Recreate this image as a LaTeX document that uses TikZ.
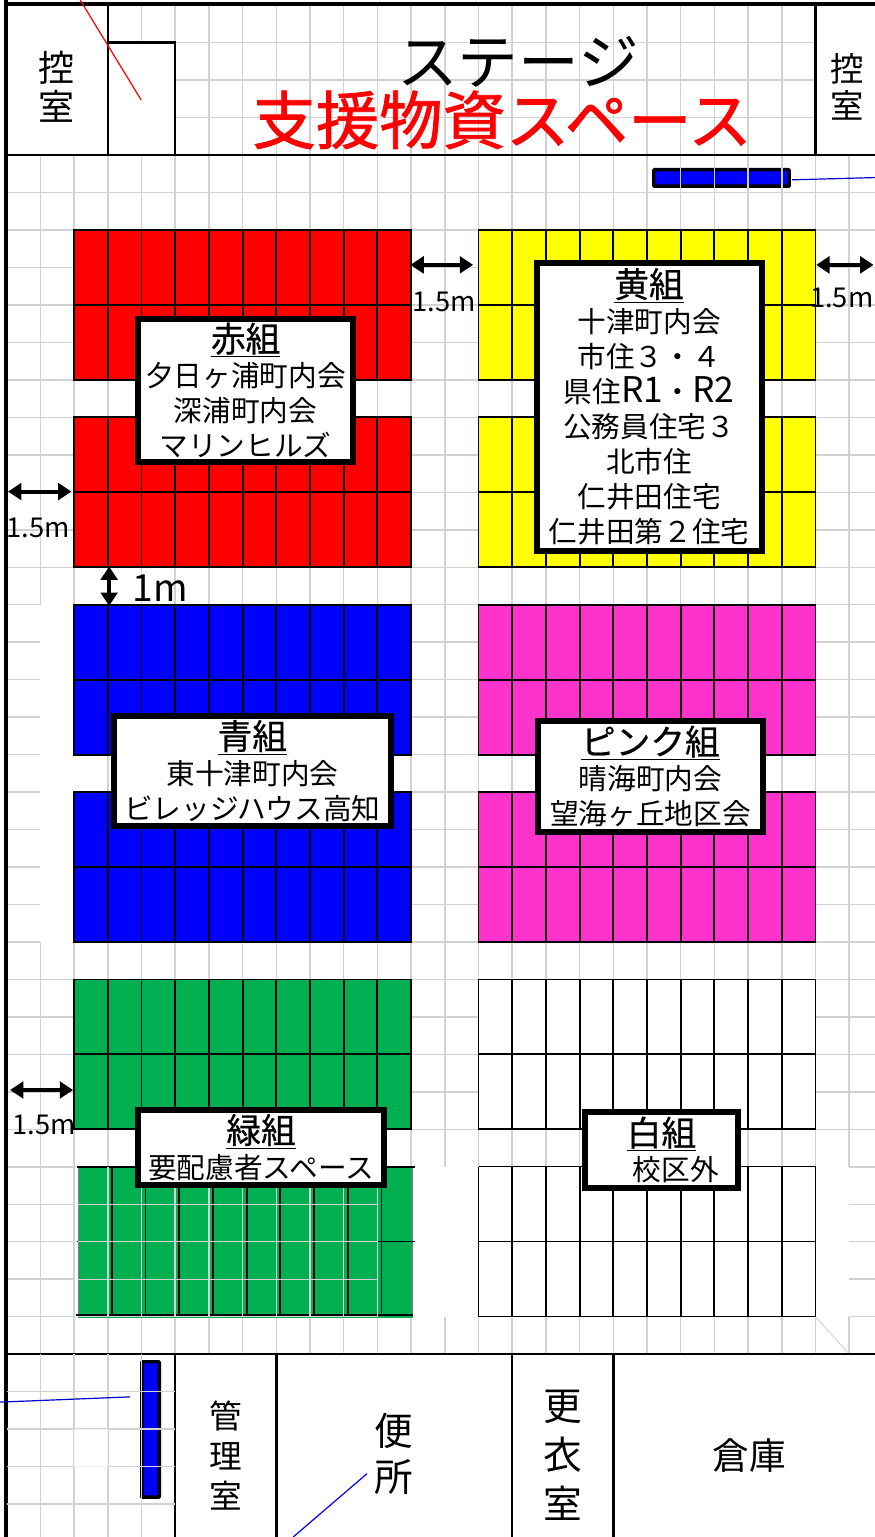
\documentclass[tikz,border=0pt]{standalone}
\usepackage{fontspec}
\setmainfont{Noto Sans CJK JP}
\usetikzlibrary{arrows.meta}
\newcommand{\grouptitle}[1]{{\fontsize{26}{26.25}\selectfont\addfontfeature{FakeBold=0.6}\underline{#1}}}
\newcommand{\bigroman}[1]{{\fontsize{26.5}{26.25}\selectfont #1}}
\definecolor{gridgray}{HTML}{D2D2D2}
\definecolor{seatpink}{HTML}{FF33CC}
\definecolor{seatgreen}{HTML}{00B050}
\definecolor{seatyellow}{HTML}{FFFF00}
\definecolor{seatred}{HTML}{FF0000}
\definecolor{seatblue}{HTML}{0000FF}
\tikzset{
	gridline/.style={gridgray,line width=1.1pt},
	thingrid/.style={gridgray,line width=0.7pt},
	wall/.style={black,line width=1.9pt},
	seat/.style={black,line width=1.4pt},
	groupbox/.style={draw=black,fill=white,line width=4.5pt,inner sep=0pt,align=center,font=\fontsize{21.5}{26.25}\selectfont},
	bluebar/.style={draw=black,fill=seatblue,line width=2.6pt,inner sep=0pt,rounded corners=0.6pt},
	gaparrow/.style={<->,>={Triangle[length=10pt,width=12.5pt]},line width=3.1pt},
	gaptext/.style={font=\fontsize{20.5}{22}\selectfont,inner sep=0pt},
	leader/.style={line width=0.9pt}
}
\begin{document}
\begin{tikzpicture}[x=25.275pt,y=-28.1025pt]
	\useasboundingbox (-0.199,-0.139) rectangle (25.736,40.88);
	\fill[white] (-0.199,-0.139) rectangle (25.736,40.88);

	% floor grid
	\foreach \i in {1,2} {
		\draw[gridline] (\i,4) -- (\i,16);
		\draw[gridline] (\i,25) -- (\i,36);
	}
	\foreach \i in {3,...,12,14,15,...,24} \draw[gridline] (\i,4) -- (\i,36);
	\foreach \i in {13,25} {
		\draw[gridline] (\i,4) -- (\i,31);
		\draw[gridline] (\i,35) -- (\i,36);
	}
	\foreach \j in {5,...,15,26,27,28,29,30} \draw[gridline] (0,\j) -- (25.76,\j);
	\foreach \j in {16,...,25} {
		\draw[gridline] (0,\j) -- (1,\j);
		\draw[gridline] (2,\j) -- (25.76,\j);
	}
	\foreach \j in {31,...,35} {
		\draw[gridline] (0,\j) -- (2,\j);
		\draw[gridline] (25,\j) -- (25.76,\j);
	}
	\draw[thingrid] (24,35) -- (25,36);
	% stage grid
	\foreach \i in {5,...,23} \draw[gridline] (\i,0) -- (\i,4);
	\foreach \j in {1,2,3} \draw[gridline] (5,\j) -- (24,\j);
	\draw[gridline] (4,0) -- (4,1);

	% seat blocks
	\foreach \bx/\by/\col in {2/6/seatred,2/11/seatred,2/16/seatblue,2/21/seatblue,2/26/seatgreen,14/6/seatyellow,14/11/seatyellow,14/16/seatpink,14/21/seatpink,14/26/white}
		\foreach \c in {0,...,9}
			\foreach \r in {0,1}
				\draw[seat,fill=\col] (\bx+\c,\by+2*\r) rectangle ++(1,2);

	% lower green block
	\fill[seatgreen] (2.13,31) rectangle (12.05,35.03);
	\draw[gray,line width=0.8pt] (2.13,31) -- (2.13,35);
	\draw[gray,line width=0.8pt] (12.05,31) -- (12.05,35);
	\foreach \c in {3,...,11} \draw[seat] (\c+.12,31) -- (\c+.12,34.95);
	\draw[seat] (2.1,31) -- (12.12,31);
	\draw[black,line width=0.7pt] (2.1,33) -- (12.12,33);
	\draw[seat] (2.05,34.95) -- (12.05,34.95);
	\foreach \i in {3,...,11} \draw[gridline] (\i,31) -- (\i,35);
	\foreach \j in {32,33,34,35} \draw[thingrid] (2.13,\j) -- (11,\j);

	% lower white block
	\foreach \i in {14,...,24} \draw[seat] (\i,31) -- (\i,35);
	\foreach \j in {31,33,35} \draw[black,line width=0.7pt] (14,\j) -- (24,\j);

	% walls
	\draw[black,line width=3pt] (-0.02,-0.139) -- (-0.02,40.88);
	\draw[black,line width=3pt] (-0.02,-0.02) -- (25.76,-0.02);
	\draw[black,line width=1.1pt] (0,4) -- (25.76,4);
	\draw[wall] (0,36) -- (25.76,36);
	\draw[wall] (3,0) -- (3,4);
	\draw[wall] (3,1) -- (5,1) -- (5,4);
	\draw[wall] (24,0) -- (24,4);
	\foreach \i in {5,8,15,18} \draw[wall] (\i,36) -- (\i,40.9);

	% storage bars
	\node[bluebar,minimum width=101.6pt,minimum height=12.4pt] (topbar) at (21.21,4.61) {};
	\foreach \i in {20,...,23} \draw[gridline] (\i,4.31) -- (\i,4.9);
	\node[bluebar,minimum width=13.1pt,minimum height=101.6pt] (lowbar) at (4.268,38.01) {};

	% grid of the lower left corner
	\foreach \i in {1,...,4} \draw[gridline] (\i,36) -- (\i,40.9);
	\foreach \j in {37,...,40} \draw[gridline] (0,\j) -- (5,\j);
	\draw[draw=gray!10,fill=white,line width=0.6pt] (2,38) rectangle (3,39);

	% leader lines
	\coordinate (redtop) at (2.18,-0.139);
	\coordinate (redend) at (3.99,2.53);
	\draw[red,leader] (redtop) -- (redend);
	\coordinate (bluetop) at (25.76,4.6);
	\coordinate (bluemid) at (23.3,4.66);
	\draw[blue!80!black,leader] (bluemid) -- (bluetop);
	\coordinate (bluea) at (-0.2,37.28);
	\coordinate (blueb) at (3.66,37.14);
	\draw[blue!80!black,leader] (bluea) -- (blueb);
	\coordinate (bluec) at (8.5,40.88);
	\coordinate (blued) at (10.69,39.19);
	\draw[blue,leader] (bluec) -- (blued);

	% groups
	\node[groupbox,minimum width=161.25pt,minimum height=107.25pt] (redbox) at (7.09,10.28)
		{\grouptitle{赤組}\\夕日ヶ浦町内会\\深浦町内会\\マリンヒルズ};
	\node[groupbox,minimum width=168.75pt,minimum height=216pt] (yellowbox) at (19.06,10.71)
		{\grouptitle{黄組}\\十津町内会\\市住３・４\\県住\bigroman{R1}・\bigroman{R2}\\公務員住宅３\\北市住\\仁井田住宅\\仁井田第２住宅};
	\node[groupbox,minimum width=207.75pt,minimum height=82.5pt] (bluebox) at (7.29,20.43)
		{\grouptitle{青組}\\東十津町内会\\ビレッジハウス高知};
	\node[groupbox,minimum width=168.75pt,minimum height=83.25pt] (pinkbox) at (19.10,20.58)
		{\grouptitle{ピンク組}\\晴海町内会\\望海ヶ丘地区会};
	\node[groupbox,minimum width=184.5pt,minimum height=56.25pt] (greenbox) at (7.55,30.48)
		{\grouptitle{緑組}\\要配慮者スペース};
	\node[groupbox,minimum width=114.75pt,minimum height=57pt] (whitebox) at (19.43,30.55)
		{\grouptitle{白組}\\\hspace*{1.0em}校区外};

	% stage and rooms
	\node[font=\fontsize{45.5}{50}\selectfont,inner sep=0pt] (stage) at (15.17,1.51) {ステージ};
	\node[font=\fontsize{47.5}{50}\selectfont\addfontfeature{FakeBold=1.2},text=seatred,inner sep=0pt] (supply) at (14.70,3.06) {支援物資スペース};
	\node[font=\fontsize{27}{29}\selectfont,align=center,inner sep=0pt] (leftroom) at (1.49,2.17) {控\\室};
	\node[font=\fontsize{25}{28}\selectfont,align=center,inner sep=0pt] (rightroom) at (24.93,2.17) {控\\室};
	\node[font=\fontsize{24.5}{30}\selectfont,align=center,inner sep=0pt] (office) at (6.49,38.7) {管\\理\\室};
	\node[font=\fontsize{29}{34.5}\selectfont,align=center,inner sep=0pt] (toilet) at (11.49,38.66) {便\\所};
	\node[font=\fontsize{29}{37}\selectfont,align=center,inner sep=0pt] (changing) at (16.49,38.7) {更\\衣\\室};
	\node[font=\fontsize{27.5}{30}\selectfont,inner sep=0pt] (store) at (22.03,38.7) {倉庫};

	% gaps
	\coordinate (gapa) at (11.98,6.93);
	\coordinate (gapb) at (13.84,6.93);
	\draw[gaparrow] (gapa) -- (gapb);
	\node[gaptext] (gaptexta) at (12.98,7.92) {1.5m};
	\coordinate (gapc) at (24.02,6.93);
	\coordinate (gapd) at (25.72,6.93);
	\draw[gaparrow] (gapc) -- (gapd);
	\node[gaptext] (gaptextb) at (24.78,7.82) {1.5m};
	\coordinate (gape) at (0.04,12.98);
	\coordinate (gapf) at (1.92,12.98);
	\draw[gaparrow] (gape) -- (gapf);
	\node[gaptext] (gaptextc) at (0.93,13.95) {1.5m};
	\coordinate (gapg) at (0.1,28.95);
	\coordinate (gaph) at (1.97,28.95);
	\draw[gaparrow] (gapg) -- (gaph);
	\node[gaptext] (gaptextd) at (1.11,29.88) {1.5m};
	\coordinate (gapi) at (3.04,14.98);
	\coordinate (gapj) at (3.04,16.03);
	\draw[gaparrow] (gapi) -- (gapj);
	\node[gaptext,font=\fontsize{28}{30}\selectfont] (gaptexte) at (4.55,15.55) {1m};
\end{tikzpicture}
\end{document}
